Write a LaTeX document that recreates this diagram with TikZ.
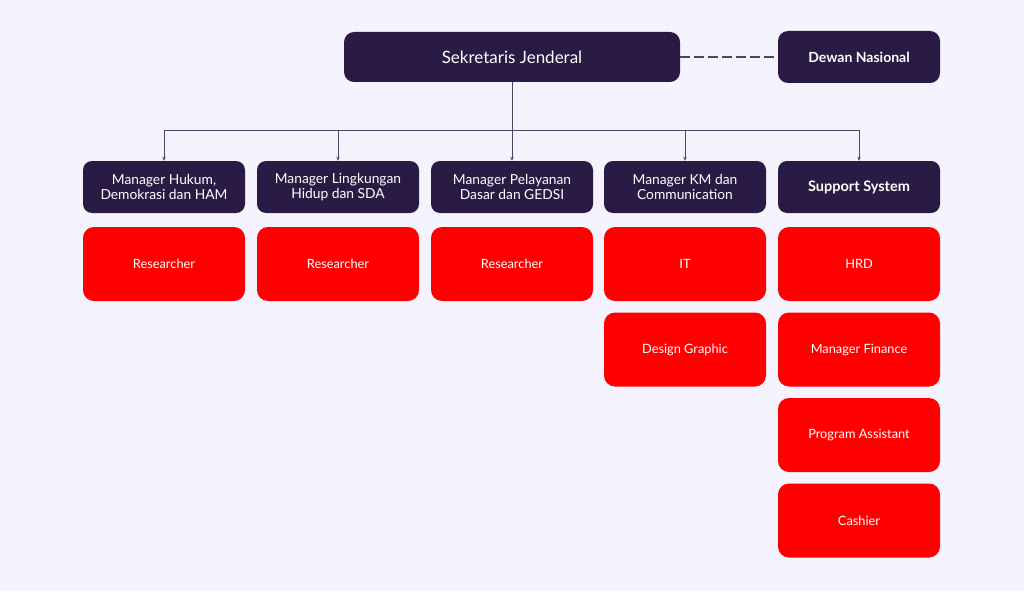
\documentclass[tikz,border=0pt]{standalone}
\usepackage{fontspec}
\setmainfont{Lato}
\usetikzlibrary{arrows.meta}
\definecolor{bg}{HTML}{F5F3FE}
\definecolor{dark}{HTML}{2A1B45}
\definecolor{redbox}{HTML}{FF0000}
\definecolor{conn}{HTML}{4E4564}
\tikzset{
  topbox/.style={fill=dark,rounded corners=10pt,text=white,align=center,inner sep=0pt},
  mgrbox/.style={fill=dark,rounded corners=9pt,text=white,align=center,inner sep=0pt,
    minimum width=162pt,minimum height=52pt,font=\fontsize{13.8}{15.5}\selectfont},
  redb/.style={fill=redbox,rounded corners=11pt,text=white,align=center,inner sep=0pt,
    minimum width=162pt,minimum height=74pt,font=\fontsize{12.8}{15}\selectfont},
  conline/.style={draw=conn,line width=0.8pt},
  arr/.style={conline,-{Stealth[length=4pt,width=3.5pt]}}
}
\begin{document}
\begin{tikzpicture}[x=1pt,y=-1pt]
\useasboundingbox[fill=bg] (0,0) rectangle (1024,591);
% top
\node[topbox,minimum width=336pt,minimum height=50pt,font=\fontsize{17}{20}\selectfont] (sek) at (512,57) {Sekretaris Jenderal};
\node[topbox,minimum width=162pt,minimum height=52pt,font=\bfseries\fontsize{14}{16}\selectfont] (dewan) at (859,57) {Dewan Nasional};
\draw[conline,line width=2pt,dash pattern=on 10pt off 4pt] (sek.east) -- (dewan.west);
% managers
\node[mgrbox] (m1) at (164,187) {Manager Hukum,\\Demokrasi dan HAM};
\node[mgrbox] (m2) at (338,187) {Manager Lingkungan\\Hidup dan SDA};
\node[mgrbox] (m3) at (512,187) {Manager Pelayanan\\Dasar dan GEDSI};
\node[mgrbox] (m4) at (685,187) {Manager KM dan\\Communication};
\node[mgrbox,font=\bfseries\fontsize{14.5}{16}\selectfont] (m5) at (859,187) {Support System};
% connectors
\coordinate (hub) at (512,130);
\draw[conline] (sek.south) -- (hub);
\draw[conline] (164,130) -- (859,130);
\foreach \m/\x in {m1/164,m2/338,m3/512,m4/685,m5/859}{
  \draw[arr] (\x,130) -- (\m.north);
}
% red boxes
\node[redb] (r1) at (164,264) {Researcher};
\node[redb] (r2) at (338,264) {Researcher};
\node[redb] (r3) at (512,264) {Researcher};
\node[redb] (r4) at (685,264) {IT};
\node[redb] (r5) at (685,349.5) {Design Graphic};
\node[redb] (s1) at (859,264) {HRD};
\node[redb] (s2) at (859,349.5) {Manager Finance};
\node[redb] (s3) at (859,435) {Program Assistant};
\node[redb] (s4) at (859,520.5) {Cashier};
\end{tikzpicture}
\end{document}
